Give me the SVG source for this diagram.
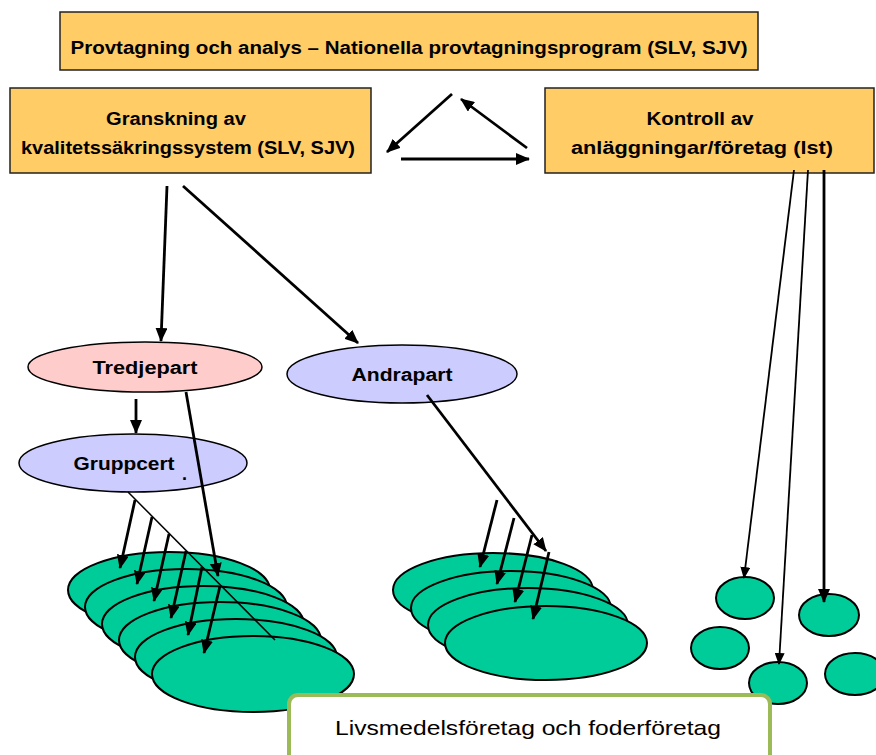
<svg xmlns="http://www.w3.org/2000/svg" width="876" height="755" viewBox="0 0 876 755">
<defs>
<style>
.box{fill:#FFCC66;stroke:#222;stroke-width:1.5}
.t{font-family:"Liberation Sans",Arial,sans-serif;font-weight:bold;font-size:18px;fill:#000}
.pink{fill:#FFCCCC;stroke:#000;stroke-width:1.5}
.blue{fill:#CCCCFF;stroke:#000;stroke-width:1.5}
.green{fill:#00CC99;stroke:#000;stroke-width:2}
.a{stroke:#000;stroke-width:2.8;fill:none;marker-end:url(#ah)}
.a2{stroke:#000;stroke-width:1.8;fill:none;marker-end:url(#ahs)}
.ln{stroke:#000;stroke-width:1.5;fill:none}
</style>
<marker id="ah" markerUnits="userSpaceOnUse" viewBox="0 0 14 12" refX="13" refY="6" markerWidth="14" markerHeight="12" orient="auto">
<path d="M0,0 L14,6 L0,12 z" fill="#000"/>
</marker>
<marker id="ahs" markerUnits="userSpaceOnUse" viewBox="0 0 12 10" refX="11" refY="5" markerWidth="12" markerHeight="10" orient="auto">
<path d="M0,0 L12,5 L0,10 z" fill="#000"/>
</marker>
</defs>
<rect width="876" height="755" fill="#fff"/>

<g id="provtagning">
<rect class="box" x="60" y="12" width="698" height="58"/>
<text class="t" x="409" y="54" text-anchor="middle" textLength="677" lengthAdjust="spacingAndGlyphs">Provtagning och analys – Nationella provtagningsprogram (SLV, SJV)</text>
</g>
<g id="granskning">
<rect class="box" x="10" y="88" width="361" height="85"/>
<text class="t" x="176" y="125" text-anchor="middle" textLength="140" lengthAdjust="spacingAndGlyphs">Granskning av</text>
<text class="t" x="188" y="154" text-anchor="middle" textLength="334" lengthAdjust="spacingAndGlyphs">kvalitetssäkringssystem (SLV, SJV)</text>
</g>
<g id="kontroll">
<rect class="box" x="545" y="88" width="329" height="85"/>
<text class="t" x="700" y="125" text-anchor="middle" textLength="107" lengthAdjust="spacingAndGlyphs">Kontroll av</text>
<text class="t" x="702" y="154" text-anchor="middle" textLength="262" lengthAdjust="spacingAndGlyphs">anläggningar/företag (lst)</text>
</g>

<g id="tredjepart">
<ellipse class="pink" cx="145" cy="367" rx="117" ry="25"/>
<text class="t" x="145" y="374" text-anchor="middle" textLength="105" lengthAdjust="spacingAndGlyphs">Tredjepart</text>
</g>
<g id="andrapart">
<ellipse class="blue" cx="402" cy="374" rx="115" ry="29"/>
<text class="t" x="402" y="381" text-anchor="middle" textLength="101" lengthAdjust="spacingAndGlyphs">Andrapart</text>
</g>
<g id="gruppcert">
<ellipse class="blue" cx="133" cy="463" rx="114" ry="29"/>
<text class="t" x="124" y="470" text-anchor="middle" textLength="101" lengthAdjust="spacingAndGlyphs">Gruppcert</text>
<text class="t" x="182" y="480" font-size="14">.</text>
</g>

<g id="foretag-stack-1">
<ellipse class="green" cx="169" cy="590" rx="101" ry="38"/>
<ellipse class="green" cx="186" cy="607" rx="101" ry="38"/>
<ellipse class="green" cx="203" cy="624" rx="101" ry="38"/>
<ellipse class="green" cx="220" cy="640" rx="101" ry="38"/>
<ellipse class="green" cx="236" cy="657" rx="101" ry="38"/>
<ellipse class="green" cx="253" cy="674" rx="101" ry="38"/>
</g>
<g id="foretag-stack-2">
<ellipse class="green" cx="493" cy="590" rx="100" ry="37"/>
<ellipse class="green" cx="511" cy="608" rx="100" ry="37"/>
<ellipse class="green" cx="528" cy="625" rx="100" ry="37"/>
<ellipse class="green" cx="546" cy="643" rx="101" ry="37"/>
</g>
<g id="foretag-enskilda">
<ellipse class="green" cx="745" cy="598" rx="29" ry="21"/>
<ellipse class="green" cx="829" cy="615" rx="30" ry="21"/>
<ellipse class="green" cx="720" cy="648" rx="29" ry="21"/>
<ellipse class="green" cx="778" cy="683" rx="29" ry="21"/>
<ellipse class="green" cx="855" cy="674" rx="30" ry="21"/>
</g>

<g id="connectors">
<line class="a" x1="452" y1="94" x2="387" y2="152"/>
<line class="a" x1="527" y1="148" x2="461" y2="99"/>
<line class="a" x1="401" y1="159" x2="529" y2="159"/>
<line class="a" x1="167" y1="186" x2="161" y2="341"/>
<line class="a" x1="183" y1="186" x2="358" y2="343"/>
<line class="a" x1="136" y1="399" x2="136" y2="433"/>
<line class="a" x1="186" y1="392" x2="218" y2="576"/>
<line class="ln" x1="128" y1="492" x2="275" y2="640"/>
<line class="a" x1="135" y1="500" x2="120" y2="568"/>
<line class="a" x1="152" y1="517" x2="137" y2="584"/>
<line class="a" x1="169" y1="534" x2="154" y2="601"/>
<line class="a" x1="186" y1="551" x2="171" y2="618"/>
<line class="a" x1="202" y1="567" x2="188" y2="635"/>
<line class="a" x1="220" y1="586" x2="204" y2="653"/>
<line class="a" x1="427" y1="395" x2="546" y2="551"/>
<line class="a" x1="497" y1="500" x2="480" y2="567"/>
<line class="a" x1="514" y1="518" x2="497" y2="584"/>
<line class="a" x1="532" y1="535" x2="515" y2="602"/>
<line class="a" x1="549" y1="552" x2="533" y2="619"/>
<line class="a2" x1="794" y1="170" x2="744" y2="578"/>
<line class="a2" x1="808" y1="170" x2="779" y2="664"/>
<line class="a" x1="824" y1="170" x2="824" y2="602"/>
</g>

<g id="livsmedelsforetag">
<rect x="289" y="695" width="481" height="72" rx="9" fill="#fff" stroke="#9BBB59" stroke-width="4"/>
<text x="528" y="735" text-anchor="middle" font-family="Liberation Sans, Arial, sans-serif" font-size="21" textLength="386" lengthAdjust="spacingAndGlyphs" fill="#000">Livsmedelsföretag och foderföretag</text>
</g>
</svg>
